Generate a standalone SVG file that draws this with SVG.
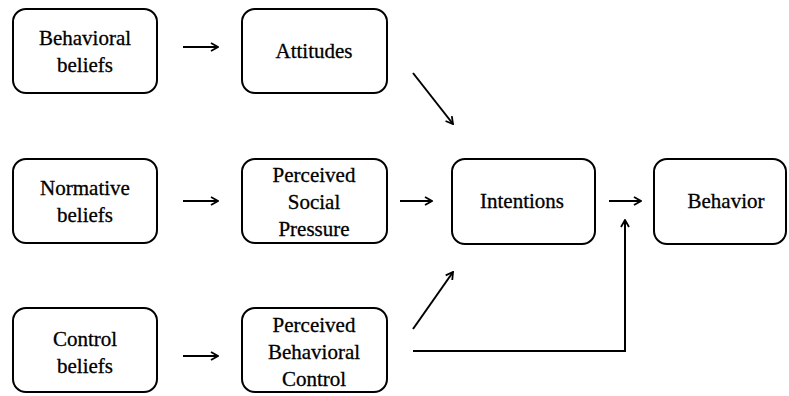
<svg xmlns="http://www.w3.org/2000/svg" width="789" height="396" viewBox="0 0 789 396">
<style>
.box{fill:#fff;stroke:#000;stroke-width:2}
text{font-family:"Liberation Serif","Times New Roman",serif;font-size:21px;text-anchor:middle;fill:#000;stroke:#000;stroke-width:0.3}
.c{fill:none;stroke:#000;stroke-width:2}
</style>
<defs>
<marker id="ah" viewBox="0 0 12 12" refX="11" refY="6" markerWidth="12" markerHeight="12" markerUnits="userSpaceOnUse" orient="auto">
<polyline points="4,2 11,6 4,10" fill="none" stroke="#000" stroke-width="1.8"/>
</marker>
</defs>
<rect width="789" height="396" fill="#fff"/>
<g id="connectors">
<line class="c" x1="183" y1="47" x2="218" y2="47" marker-end="url(#ah)"/>
<line class="c" x1="183" y1="201" x2="218" y2="201" marker-end="url(#ah)"/>
<line class="c" x1="183" y1="356" x2="218" y2="356" marker-end="url(#ah)"/>
<line class="c" x1="400" y1="201" x2="432" y2="201" marker-end="url(#ah)"/>
<line class="c" x1="609" y1="201" x2="641" y2="201" marker-end="url(#ah)"/>
<line class="c" x1="413" y1="73" x2="453" y2="124" marker-end="url(#ah)"/>
<line class="c" x1="413" y1="329" x2="453" y2="272" marker-end="url(#ah)"/>
<polyline class="c" points="413,351 625,351 625,220" marker-end="url(#ah)"/>
</g>
<g id="behavioral-beliefs"><rect class="box" x="13" y="9" width="144" height="84" rx="13"/><text x="85" y="45">Behavioral</text><text x="85" y="72">beliefs</text></g>
<g id="attitudes"><rect class="box" x="242" y="9" width="145" height="84" rx="13"/><text x="314" y="58">Attitudes</text></g>
<g id="normative-beliefs"><rect class="box" x="13" y="159" width="144" height="84" rx="13"/><text x="85" y="195">Normative</text><text x="85" y="222">beliefs</text></g>
<g id="perceived-social-pressure"><rect class="box" x="242" y="159" width="145" height="84" rx="13"/><text x="314" y="182">Perceived</text><text x="314" y="209">Social</text><text x="314" y="236">Pressure</text></g>
<g id="intentions"><rect class="box" x="452" y="159" width="143" height="85" rx="13"/><text x="522" y="208">Intentions</text></g>
<g id="behavior"><rect class="box" x="654" y="159" width="132" height="85" rx="13"/><text x="726" y="208">Behavior</text></g>
<g id="control-beliefs"><rect class="box" x="13" y="308" width="144" height="84" rx="13"/><text x="85" y="346">Control</text><text x="85" y="373">beliefs</text></g>
<g id="perceived-behavioral-control"><rect class="box" x="242" y="308" width="145" height="84" rx="13"/><text x="314" y="332">Perceived</text><text x="314" y="359">Behavioral</text><text x="314" y="386">Control</text></g>
</svg>
